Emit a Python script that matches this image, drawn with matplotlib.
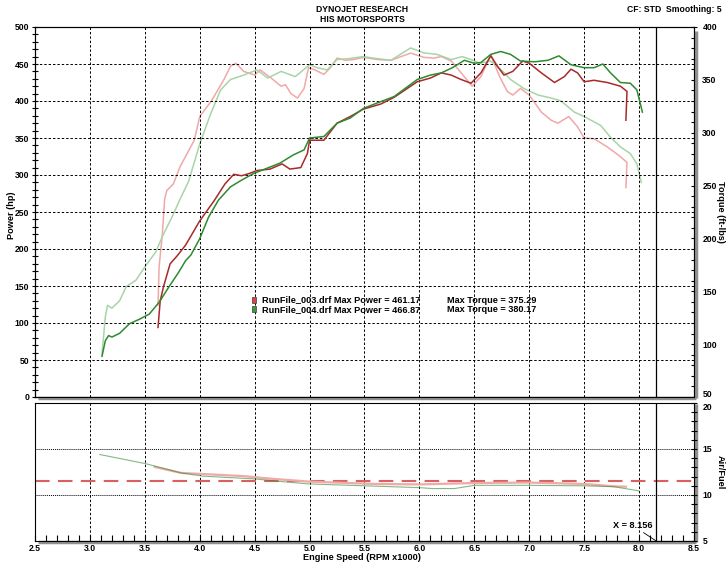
import numpy as np
import matplotlib.pyplot as plt
from matplotlib.patches import Rectangle

plt.rcParams['font.family'] = ['Liberation Sans', 'DejaVu Sans']
plt.rcParams['font.weight'] = 'bold'

# power curves (hp)
rpm_p003 = [3.62, 3.64, 3.67, 3.73, 3.79, 3.87, 4.00, 4.13, 4.23, 4.31, 4.38, 4.45, 4.52, 4.64, 4.75,
            4.82, 4.92, 4.98, 5.00, 5.13, 5.25, 5.37, 5.49, 5.65, 5.77, 5.98, 6.10, 6.20, 6.29, 6.38,
            6.47, 6.56, 6.65, 6.71, 6.77, 6.85, 6.94, 7.00, 7.11, 7.23, 7.32, 7.38, 7.44, 7.50, 7.59,
            7.71, 7.83, 7.89, 7.88]
hp_003 = [94, 130, 149, 180, 190, 205, 238, 265, 288, 301, 299, 302, 306, 308, 315,
          308, 310, 329, 347, 347, 370, 379, 389, 396, 405, 426, 431, 438, 435, 429,
          424, 438, 461.2, 447, 435, 440, 454, 451, 438, 425, 433, 443, 438, 426, 428,
          425, 420, 413, 374]

rpm_p004 = [3.11, 3.14, 3.17, 3.20, 3.27, 3.36, 3.45, 3.54, 3.63, 3.72, 3.81, 3.87, 3.92, 4.00, 4.08,
            4.17, 4.28, 4.38, 4.49, 4.61, 4.73, 4.85, 4.95, 5.00, 5.13, 5.25, 5.37, 5.49, 5.61, 5.77,
            5.98, 6.10, 6.20, 6.30, 6.41, 6.50, 6.56, 6.65, 6.74, 6.83, 6.92, 7.05, 7.17, 7.27, 7.38,
            7.50, 7.59, 7.67, 7.74, 7.83, 7.92, 7.98, 8.03]
hp_004 = [55, 76, 83, 81, 86, 99, 105, 112, 128, 149, 169, 184, 192, 214, 243,
          266, 284, 293, 302, 309, 316, 327, 334, 350, 352, 370, 377, 390, 397, 406,
          429, 435, 438, 445, 455, 451, 452, 463, 466.9, 463, 454, 453, 455, 461, 449,
          445, 445, 450, 438, 425, 424, 415, 385]

# torque curves (ft-lbs)
rpm_t003 = [3.62, 3.63, 3.66, 3.68, 3.70, 3.76, 3.82, 3.95, 4.00, 4.11, 4.22, 4.28, 4.33, 4.40, 4.50,
            4.55, 4.65, 4.74, 4.78, 4.83, 4.89, 4.95, 4.99, 5.05, 5.13, 5.19, 5.25, 5.33, 5.40, 5.49,
            5.62, 5.74, 5.92, 6.04, 6.13, 6.20, 6.29, 6.38, 6.48, 6.56, 6.65, 6.73, 6.80, 6.85, 6.92,
            7.00, 7.11, 7.20, 7.26, 7.36, 7.44, 7.50, 7.59, 7.71, 7.82, 7.89, 7.88]
tq_003 = [136.8, 173.2, 204.7, 236.9, 245.3, 251.6, 267.7, 292.9, 315.3, 330.7, 350.3, 362.9, 365.7, 358.0, 354.5,
          359.4, 351.7, 344.0, 345.4, 337.0, 332.8, 341.9, 361.5, 359.4, 355.2, 361.5, 370.6, 368.5, 369.2, 371.3,
          369.2, 368.5, 375.3, 371.3, 370.6, 372.0, 367.8, 356.6, 344.0, 353.1, 373.4, 353.1, 339.1, 335.6, 341.9,
          335.6, 319.5, 311.8, 309.0, 315.3, 305.5, 295.0, 294.3, 286.6, 278.2, 271.9, 248.1]

rpm_t004 = [3.11, 3.14, 3.16, 3.20, 3.27, 3.33, 3.42, 3.51, 3.60, 3.66, 3.75, 3.82, 3.90, 4.00, 4.10,
            4.19, 4.28, 4.40, 4.52, 4.62, 4.74, 4.87, 5.00, 5.07, 5.16, 5.25, 5.34, 5.49, 5.58, 5.74,
            5.92, 6.04, 6.16, 6.29, 6.39, 6.47, 6.55, 6.65, 6.76, 6.83, 6.95, 7.08, 7.20, 7.29, 7.41,
            7.50, 7.65, 7.74, 7.83, 7.92, 7.98, 8.02]
tq_004 = [90.6, 125.6, 136.8, 134.0, 141.0, 154.3, 160.6, 174.6, 187.2, 201.9, 220.8, 236.9, 254.4, 289.4, 318.1,
          340.5, 350.3, 354.5, 359.4, 351.7, 358.0, 353.1, 364.3, 361.5, 359.4, 369.2, 369.9, 372.0, 370.6, 368.5,
          380.2, 375.5, 374.1, 369.2, 372.0, 369.2, 365.7, 367.8, 358.0, 350.3, 341.9, 335.6, 332.8, 330.0, 319.5,
          315.3, 306.9, 295.7, 286.6, 280.3, 270.5, 253.0]

# air/fuel
rpm_af003 = [3.59, 3.83, 4.16, 4.40, 4.67, 5.00, 5.60, 6.00, 6.50, 7.00, 7.50, 7.77, 7.88]
af_003 = [13.05, 12.4, 12.2, 12.05, 11.75, 11.45, 11.2, 11.15, 11.3, 11.35, 11.2, 10.95, 10.9]
rpm_af004 = [3.09, 3.51, 3.83, 4.03, 4.50, 4.80, 5.00, 5.50, 6.00, 6.12, 6.32, 6.50, 7.00, 7.50, 7.77, 8.00]
af_004 = [14.4, 13.4, 12.4, 12.05, 11.75, 11.4, 11.2, 11.0, 10.8, 10.7, 10.7, 11.05, 11.05, 11.0, 10.9, 10.45]
af_target = 11.5
cursor_x = 8.156

legend_rows = [("RunFile_003.drf Max Power = 461.17", "Max Torque = 375.29", '#e04040'),
               ("RunFile_004.drf Max Power = 466.87", "Max Torque = 380.17", '#3a9a3a')]

c_p003, c_t003 = '#a82a2a', '#f0a8a8'
c_p004, c_t004 = '#2f8a2f', '#a8d4a8'
fs = 6.6
fst = 6.2

fig = plt.figure(figsize=(7.27, 5.64), dpi=100)
ax = fig.add_axes([35/727, 1-397/564, 659/727, 370/564])
ax2 = ax.twinx()
axl = fig.add_axes([35/727, 1-541/564, 659/727, 138/564])

xgrid = np.arange(3.0, 8.01, 0.5)

# upper panel
ax.set_xlim(2.5, 8.5)
ax.set_ylim(0, 500)
ax2.set_ylim(50, 400)
for xv in xgrid:
    ax.axvline(xv, color='black', lw=0.7, ls=(0, (2.5, 2)), zorder=1)
for yv in range(50, 500, 50):
    ax.axhline(yv, color='black', lw=0.7, ls=(0, (2.5, 2)), zorder=1)
ax.axvline(cursor_x, color='black', lw=0.9, zorder=2)
ax2.plot(rpm_t003, tq_003, color=c_t003, lw=1.1)
ax2.plot(rpm_t004, tq_004, color=c_t004, lw=1.1)
ax.plot(rpm_p003, hp_003, color=c_p003, lw=1.1, zorder=3)
ax.plot(rpm_p004, hp_004, color=c_p004, lw=1.1, zorder=3)
ax.set_zorder(ax2.get_zorder() + 1)
ax.patch.set_visible(False)

ax.set_xticks([])
ax.set_yticks(range(0, 501, 50))
ax.set_yticks(range(0, 501, 10), minor=True)
ax.tick_params(axis='y', which='both', direction='inout', length=4, width=0.8, labelsize=fst, pad=2)
ax2.set_yticks(range(50, 401, 50))
ax2.set_yticks(range(50, 401, 10), minor=True)
ax2.tick_params(axis='y', which='both', direction='inout', length=4, width=0.8, labelsize=fst, pad=4)

for i, (left, right, col) in enumerate(legend_rows):
    yy = 0.262 - i * 0.025
    ax.add_patch(Rectangle((0.3288, yy - 0.008), 0.0066, 0.016, transform=ax.transAxes,
                           facecolor=col, edgecolor='#404040', lw=0.5, zorder=5))
    ax.text(0.3445, yy, left, transform=ax.transAxes, fontsize=fs, va='center', zorder=5)
    ax.text(0.6252, yy, right, transform=ax.transAxes, fontsize=fs, va='center', zorder=5)

# lower panel
axl.set_xlim(2.5, 8.5)
axl.set_ylim(5, 20)
for xv in xgrid:
    axl.axvline(xv, color='black', lw=0.7, ls=(0, (2.5, 2)), zorder=1)
for yv in (10, 15):
    axl.axhline(yv, color='black', lw=0.7, ls=(0, (1, 1)), zorder=1)
axl.axhline(af_target, color='#d86060', lw=1.5, ls=(0, (7, 4)), zorder=2)
axl.axvline(cursor_x, color='black', lw=0.9, zorder=2)
axl.plot(rpm_af003, af_003, color=c_t003, lw=1.6, zorder=3)
axl.plot(rpm_af004, af_004, color=c_p004, lw=0.8, alpha=0.6, zorder=3)
axl.annotate('X = 8.156', xy=(cursor_x, 5), xytext=(8.12, 6.7), fontsize=fs, ha='right', va='center',
             arrowprops=dict(arrowstyle='-', color='black', lw=0.6, shrinkA=0, shrinkB=0))

axl.yaxis.tick_right()
axl.set_yticks([5, 10, 15, 20])
axl.set_yticks(range(5, 21), minor=True)
axl.tick_params(axis='y', which='both', direction='inout', length=4, width=0.8, labelsize=fst, pad=4)
axl.set_xticks(xgrid.tolist() + [2.5, 8.5])
axl.set_xticks(np.arange(2.5, 8.51, 0.1), minor=True)
axl.set_xticklabels([f'{v:.1f}' for v in xgrid] + ['2.5', '8.5'])
axl.tick_params(axis='x', which='both', direction='in', length=4, width=0.8, labelsize=fst, pad=2)

# keep the "50" and "20" labels at the panel join apart
ax2.get_yticklabels()[0].set_va('baseline')
axl.get_yticklabels()[-1].set_va('top')

for a in (ax, ax2, axl):
    for s in a.spines.values():
        s.set_linewidth(0.8)

# grey frame shadows
for a in (ax, axl):
    a.plot([0.005, 1.003], [-0.004, -0.004], transform=a.transAxes, color='#909090', lw=2.5,
           clip_on=False, zorder=0, solid_capstyle='butt')
    a.plot([1.003, 1.003], [-0.004, 0.99], transform=a.transAxes, color='#909090', lw=2.5,
           clip_on=False, zorder=0, solid_capstyle='butt')

# axis titles
fig.text(12/727, 1 - 215/564, 'Power (hp)', rotation=90, ha='center', va='center', fontsize=fs)
fig.text(720/727, 1 - 212/564, 'Torque (ft-lbs)', rotation=-90, ha='center', va='center', fontsize=fs)
fig.text(720/727, 1 - 472/564, 'Air/Fuel', rotation=-90, ha='center', va='center', fontsize=fs)
fig.text(362/727, 1 - 557/564, 'Engine Speed (RPM x1000)', ha='center', va='center', fontsize=fs)

fig.text(0.498, 1 - 9/564, 'DYNOJET RESEARCH', ha='center', va='center', fontsize=fst)
fig.text(0.498, 1 - 20/564, 'HIS MOTORSPORTS', ha='center', va='center', fontsize=fst)
fig.text(722/727, 1 - 9/564, 'CF: STD  Smoothing: 5', ha='right', va='center', fontsize=fst)

fig.savefig('out.png', dpi=100)
